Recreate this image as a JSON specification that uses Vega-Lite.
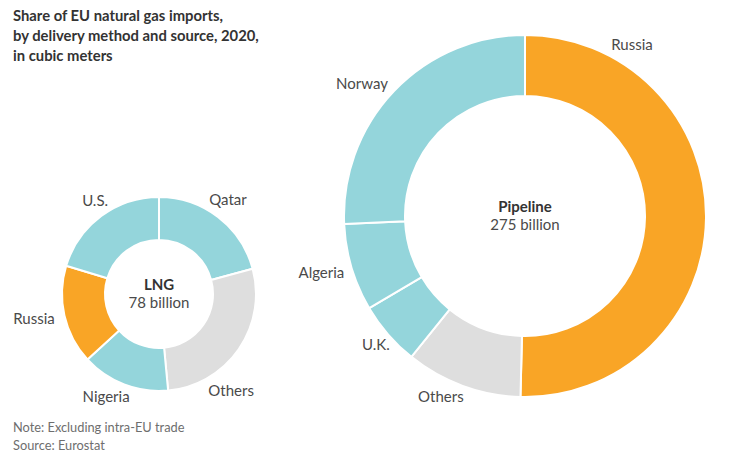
{
  "$schema": "https://vega.github.io/schema/vega-lite/v6.json",
  "padding": {"left": 13, "top": 7, "right": 0, "bottom": 13},
  "background": "white",
  "config": {
    "view": {"stroke": null},
    "text": {"font": "Lato", "fontSize": 15, "color": "#4a4a4a"}
  },
  "datasets": {
    "lng": [
      {"source": "Qatar", "share": 20.8, "group": "Other supplier", "rank": 1},
      {"source": "Others", "share": 27.7, "group": "Others", "rank": 2},
      {"source": "Nigeria", "share": 14.7, "group": "Other supplier", "rank": 3},
      {"source": "Russia", "share": 16.5, "group": "Russia", "rank": 4},
      {"source": "U.S.", "share": 20.3, "group": "Other supplier", "rank": 5}
    ],
    "pipeline": [
      {"source": "Russia", "share": 50.4, "group": "Russia", "rank": 1},
      {"source": "Others", "share": 10.4, "group": "Others", "rank": 2},
      {"source": "U.K.", "share": 5.7, "group": "Other supplier", "rank": 3},
      {"source": "Algeria", "share": 7.8, "group": "Other supplier", "rank": 4},
      {"source": "Norway", "share": 25.7, "group": "Other supplier", "rank": 5}
    ]
  },
  "spacing": -7,
  "hconcat": [
    {
      "bounds": "flush",
      "spacing": 0,
      "vconcat": [
        {
          "width": 292,
          "height": 164,
          "data": {"values": [
            {"line": "Share of EU natural gas imports,"},
            {"line": "by delivery method and source, 2020,"},
            {"line": "in cubic meters"}
          ]},
          "mark": {"type": "text", "align": "left", "fontWeight": 700, "fontSize": 14.8, "color": "#333333"},
          "encoding": {
            "text": {"field": "line"},
            "x": {"datum": 0, "type": "quantitative", "scale": {"domain": [0, 1]}, "axis": null},
            "y": {"field": "line", "type": "nominal", "sort": null, "axis": null, "scale": {"type": "point", "padding": 0, "range": [10, 50]}}
          }
        },
        {
          "width": 292,
          "height": 246,
          "transform": [
            {"stack": "share", "as": ["s0", "s1"], "sort": [{"field": "rank"}]}
          ],
          "data": {"name": "lng"},
          "layer": [
            {
              "mark": {"type": "arc", "radius": 97, "radius2": 54, "stroke": "white", "strokeWidth": 2},
              "encoding": {
                "theta": {"field": "s0", "type": "quantitative", "stack": null, "scale": {"domain": [0, 100]}},
                "theta2": {"field": "s1"},
                "color": {
                  "field": "group",
                  "legend": null,
                  "scale": {"domain": ["Russia", "Other supplier", "Others"], "range": ["#F9A526", "#94D5DB", "#DEDEDE"]}
                }
              }
            },
            {
              "transform": [{"filter": "datum.source === 'Qatar'"}],
              "mark": {"type": "text", "radius": 118, "dx": 69, "dy": 24},
              "encoding": {
                "theta": {"field": "s0", "type": "quantitative", "stack": null, "scale": {"domain": [0, 100]}},
                "text": {"field": "source"}
              }
            },
            {
              "transform": [{"filter": "datum.source === 'Others'"}],
              "mark": {"type": "text", "radius": 118, "dx": 61, "dy": -20},
              "encoding": {
                "theta": {"field": "s1", "type": "quantitative", "stack": null, "scale": {"domain": [0, 100]}},
                "text": {"field": "source"}
              }
            },
            {
              "transform": [{"filter": "datum.source === 'Nigeria'"}],
              "mark": {"type": "text", "radius": 118, "dx": -64, "dy": -14},
              "encoding": {
                "theta": {"field": "s0", "type": "quantitative", "stack": null, "scale": {"domain": [0, 100]}},
                "text": {"field": "source"}
              }
            },
            {
              "transform": [{"filter": "datum.source === 'Russia'"}],
              "mark": {"type": "text", "radius": 118, "dx": -38, "dy": -55},
              "encoding": {
                "theta": {"field": "s0", "type": "quantitative", "stack": null, "scale": {"domain": [0, 100]}},
                "text": {"field": "source"}
              }
            },
            {
              "transform": [{"filter": "datum.source === 'U.S.'"}],
              "mark": {"type": "text", "radius": 118, "dx": 49, "dy": -59},
              "encoding": {
                "theta": {"field": "s0", "type": "quantitative", "stack": null, "scale": {"domain": [0, 100]}},
                "text": {"field": "source"}
              }
            },
            {
              "data": {"values": [{"label": "LNG"}]},
              "transform": [],
              "mark": {"type": "text", "fontWeight": 700, "dy": -9, "color": "#333333"},
              "encoding": {"text": {"field": "label"}}
            },
            {
              "data": {"values": [{"label": "78 billion"}]},
              "transform": [],
              "mark": {"type": "text", "dy": 9},
              "encoding": {"text": {"field": "label"}}
            }
          ]
        },
        {
          "width": 292,
          "height": 36,
          "data": {"values": [
            {"line": "Note: Excluding intra-EU trade"},
            {"line": "Source: Eurostat"}
          ]},
          "mark": {"type": "text", "align": "left", "fontSize": 12.8, "color": "#6e6e6e", "dy": 1.5},
          "encoding": {
            "text": {"field": "line"},
            "x": {"datum": 0, "type": "quantitative", "scale": {"domain": [0, 1]}, "axis": null},
            "y": {"field": "line", "type": "nominal", "sort": null, "axis": null}
          }
        }
      ]
    },
    {
      "width": 432,
      "height": 418,
      "data": {"name": "pipeline"},
      "transform": [
        {"stack": "share", "as": ["s0", "s1"], "sort": [{"field": "rank"}]}
      ],
      "layer": [
        {
          "mark": {"type": "arc", "radius": 181, "radius2": 120, "stroke": "white", "strokeWidth": 2},
          "encoding": {
            "theta": {"field": "s0", "type": "quantitative", "stack": null, "scale": {"domain": [0, 100]}},
            "theta2": {"field": "s1"},
            "color": {
              "field": "group",
              "legend": null,
              "scale": {"domain": ["Russia", "Other supplier", "Others"], "range": ["#F9A526", "#94D5DB", "#DEDEDE"]}
            }
          }
        },
        {
          "transform": [{"filter": "datum.source === 'Russia'"}],
          "mark": {"type": "text", "radius": 204, "dx": 107, "dy": 33},
          "encoding": {
            "theta": {"field": "s0", "type": "quantitative", "stack": null, "scale": {"domain": [0, 100]}},
            "text": {"field": "source"}
          }
        },
        {
          "transform": [{"filter": "datum.source === 'Others'"}],
          "mark": {"type": "text", "radius": 204, "dx": -79, "dy": -23},
          "encoding": {
            "theta": {"field": "s0", "type": "quantitative", "stack": null, "scale": {"domain": [0, 100]}},
            "text": {"field": "source"}
          }
        },
        {
          "transform": [{"filter": "datum.source === 'U.K.'"}],
          "mark": {"type": "text", "radius": 204, "dx": -21, "dy": -30},
          "encoding": {
            "theta": {"field": "s0", "type": "quantitative", "stack": null, "scale": {"domain": [0, 100]}},
            "text": {"field": "source"}
          }
        },
        {
          "transform": [{"filter": "datum.source === 'Algeria'"}],
          "mark": {"type": "text", "radius": 204, "dx": -28, "dy": -47},
          "encoding": {
            "theta": {"field": "s0", "type": "quantitative", "stack": null, "scale": {"domain": [0, 100]}},
            "text": {"field": "source"}
          }
        },
        {
          "transform": [{"filter": "datum.source === 'Norway'"}],
          "mark": {"type": "text", "radius": 204, "dx": -163, "dy": 72},
          "encoding": {
            "theta": {"field": "s1", "type": "quantitative", "stack": null, "scale": {"domain": [0, 100]}},
            "text": {"field": "source"}
          }
        },
        {
          "data": {"values": [{"label": "Pipeline"}]},
          "mark": {"type": "text", "fontWeight": 700, "dy": -9, "color": "#333333"},
          "encoding": {"text": {"field": "label"}}
        },
        {
          "data": {"values": [{"label": "275 billion"}]},
          "mark": {"type": "text", "dy": 9},
          "encoding": {"text": {"field": "label"}}
        }
      ]
    }
  ]
}
